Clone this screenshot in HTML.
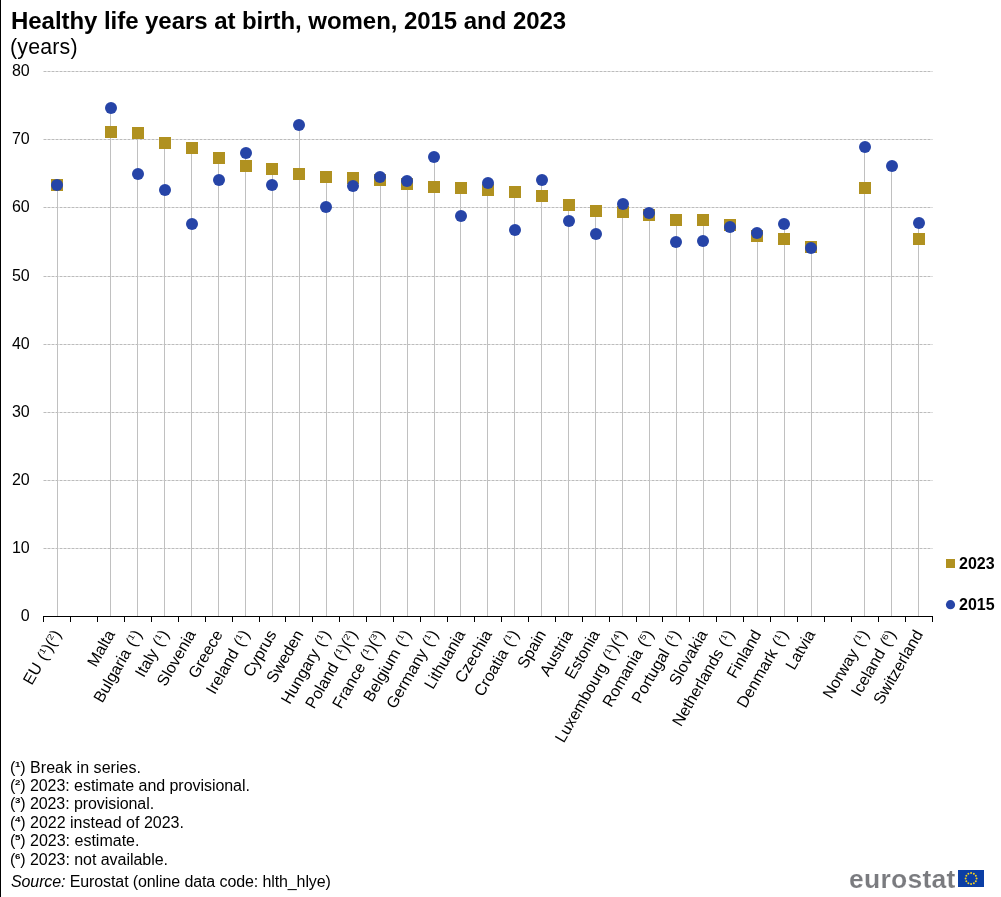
<!DOCTYPE html>
<html><head><meta charset="utf-8"><title>Healthy life years at birth, women, 2015 and 2023</title>
<style>
html,body{margin:0;padding:0;background:#fff;}
body{-webkit-font-smoothing:antialiased;width:1001px;height:897px;position:relative;overflow:hidden;font-family:"Liberation Sans",sans-serif;color:#000;}
.t{font-family:"Liberation Sans",sans-serif;fill:#000;}
#title,#sub,#foot,#src,#logo,svg{will-change:transform;}
.sp{display:inline-block;width:5.33px;text-align:center;font-size:7.8px;font-weight:bold;vertical-align:6px;line-height:0;}
#lb{position:absolute;left:0;top:0;width:1px;height:897px;background:#000;}
#title{position:absolute;left:10.6px;top:7px;font-size:24px;font-weight:bold;white-space:nowrap;line-height:28px;letter-spacing:-0.05px;}
#sub{position:absolute;left:10.3px;top:34.8px;letter-spacing:0.2px;font-size:21.33px;white-space:nowrap;line-height:24px;}
#foot{position:absolute;left:10px;top:759px;font-size:16px;line-height:18.38px;white-space:nowrap;}
#src{position:absolute;left:11px;top:873px;letter-spacing:-0.107px;font-size:16px;line-height:18.38px;white-space:nowrap;}
#logo{position:absolute;left:849.3px;top:863.5px;font-size:26.5px;font-weight:bold;color:#7a7b7f;line-height:30px;letter-spacing:0.25px;-webkit-text-stroke:0.15px #fff;}
</style></head><body>
<div id="lb"></div>
<svg width="1001" height="897" viewBox="0 0 1001 897" style="position:absolute;left:0;top:0">
<rect x="43" y="548" width="890" height="1" fill="#dedede" shape-rendering="crispEdges"/>
<line x1="44" x2="932" y1="548.5" y2="548.5" stroke="#bcbcbc" stroke-width="1" stroke-dasharray="2 2" shape-rendering="crispEdges"/>
<rect x="43" y="480" width="890" height="1" fill="#dedede" shape-rendering="crispEdges"/>
<line x1="44" x2="932" y1="480.5" y2="480.5" stroke="#bcbcbc" stroke-width="1" stroke-dasharray="2 2" shape-rendering="crispEdges"/>
<rect x="43" y="412" width="890" height="1" fill="#dedede" shape-rendering="crispEdges"/>
<line x1="44" x2="932" y1="412.5" y2="412.5" stroke="#bcbcbc" stroke-width="1" stroke-dasharray="2 2" shape-rendering="crispEdges"/>
<rect x="43" y="344" width="890" height="1" fill="#dedede" shape-rendering="crispEdges"/>
<line x1="44" x2="932" y1="344.5" y2="344.5" stroke="#bcbcbc" stroke-width="1" stroke-dasharray="2 2" shape-rendering="crispEdges"/>
<rect x="43" y="276" width="890" height="1" fill="#dedede" shape-rendering="crispEdges"/>
<line x1="44" x2="932" y1="276.5" y2="276.5" stroke="#bcbcbc" stroke-width="1" stroke-dasharray="2 2" shape-rendering="crispEdges"/>
<rect x="43" y="207" width="890" height="1" fill="#dedede" shape-rendering="crispEdges"/>
<line x1="44" x2="932" y1="207.5" y2="207.5" stroke="#bcbcbc" stroke-width="1" stroke-dasharray="2 2" shape-rendering="crispEdges"/>
<rect x="43" y="139" width="890" height="1" fill="#dedede" shape-rendering="crispEdges"/>
<line x1="44" x2="932" y1="139.5" y2="139.5" stroke="#bcbcbc" stroke-width="1" stroke-dasharray="2 2" shape-rendering="crispEdges"/>
<rect x="43" y="71" width="890" height="1" fill="#dedede" shape-rendering="crispEdges"/>
<line x1="44" x2="932" y1="71.5" y2="71.5" stroke="#bcbcbc" stroke-width="1" stroke-dasharray="2 2" shape-rendering="crispEdges"/>
<g shape-rendering="crispEdges">
<rect x="57" y="185" width="1" height="431" fill="#c0c0c0"/>
<rect x="110" y="108" width="1" height="508" fill="#c0c0c0"/>
<rect x="137" y="133" width="1" height="483" fill="#c0c0c0"/>
<rect x="164" y="143" width="1" height="473" fill="#c0c0c0"/>
<rect x="191" y="148" width="1" height="468" fill="#c0c0c0"/>
<rect x="218" y="158" width="1" height="458" fill="#c0c0c0"/>
<rect x="245" y="153" width="1" height="463" fill="#c0c0c0"/>
<rect x="272" y="169" width="1" height="447" fill="#c0c0c0"/>
<rect x="299" y="125" width="1" height="491" fill="#c0c0c0"/>
<rect x="326" y="177" width="1" height="439" fill="#c0c0c0"/>
<rect x="353" y="178" width="1" height="438" fill="#c0c0c0"/>
<rect x="380" y="177" width="1" height="439" fill="#c0c0c0"/>
<rect x="407" y="181" width="1" height="435" fill="#c0c0c0"/>
<rect x="434" y="157" width="1" height="459" fill="#c0c0c0"/>
<rect x="460" y="188" width="1" height="428" fill="#c0c0c0"/>
<rect x="487" y="183" width="1" height="433" fill="#c0c0c0"/>
<rect x="514" y="192" width="1" height="424" fill="#c0c0c0"/>
<rect x="541" y="180" width="1" height="436" fill="#c0c0c0"/>
<rect x="568" y="205" width="1" height="411" fill="#c0c0c0"/>
<rect x="595" y="211" width="1" height="405" fill="#c0c0c0"/>
<rect x="622" y="204" width="1" height="412" fill="#c0c0c0"/>
<rect x="649" y="213" width="1" height="403" fill="#c0c0c0"/>
<rect x="676" y="220" width="1" height="396" fill="#c0c0c0"/>
<rect x="703" y="220" width="1" height="396" fill="#c0c0c0"/>
<rect x="730" y="225" width="1" height="391" fill="#c0c0c0"/>
<rect x="757" y="233" width="1" height="383" fill="#c0c0c0"/>
<rect x="784" y="224" width="1" height="392" fill="#c0c0c0"/>
<rect x="811" y="247" width="1" height="369" fill="#c0c0c0"/>
<rect x="864" y="147" width="1" height="469" fill="#c0c0c0"/>
<rect x="891" y="166" width="1" height="450" fill="#c0c0c0"/>
<rect x="918" y="223" width="1" height="393" fill="#c0c0c0"/>
<rect x="43" y="616" width="890" height="1" fill="#000"/>
<rect x="43" y="616" width="1" height="6" fill="#000"/>
<rect x="70" y="616" width="1" height="6" fill="#000"/>
<rect x="97" y="616" width="1" height="6" fill="#000"/>
<rect x="124" y="616" width="1" height="6" fill="#000"/>
<rect x="151" y="616" width="1" height="6" fill="#000"/>
<rect x="178" y="616" width="1" height="6" fill="#000"/>
<rect x="205" y="616" width="1" height="6" fill="#000"/>
<rect x="232" y="616" width="1" height="6" fill="#000"/>
<rect x="259" y="616" width="1" height="6" fill="#000"/>
<rect x="285" y="616" width="1" height="6" fill="#000"/>
<rect x="312" y="616" width="1" height="6" fill="#000"/>
<rect x="339" y="616" width="1" height="6" fill="#000"/>
<rect x="366" y="616" width="1" height="6" fill="#000"/>
<rect x="393" y="616" width="1" height="6" fill="#000"/>
<rect x="420" y="616" width="1" height="6" fill="#000"/>
<rect x="447" y="616" width="1" height="6" fill="#000"/>
<rect x="474" y="616" width="1" height="6" fill="#000"/>
<rect x="501" y="616" width="1" height="6" fill="#000"/>
<rect x="528" y="616" width="1" height="6" fill="#000"/>
<rect x="555" y="616" width="1" height="6" fill="#000"/>
<rect x="582" y="616" width="1" height="6" fill="#000"/>
<rect x="609" y="616" width="1" height="6" fill="#000"/>
<rect x="636" y="616" width="1" height="6" fill="#000"/>
<rect x="662" y="616" width="1" height="6" fill="#000"/>
<rect x="689" y="616" width="1" height="6" fill="#000"/>
<rect x="716" y="616" width="1" height="6" fill="#000"/>
<rect x="743" y="616" width="1" height="6" fill="#000"/>
<rect x="770" y="616" width="1" height="6" fill="#000"/>
<rect x="797" y="616" width="1" height="6" fill="#000"/>
<rect x="824" y="616" width="1" height="6" fill="#000"/>
<rect x="851" y="616" width="1" height="6" fill="#000"/>
<rect x="878" y="616" width="1" height="6" fill="#000"/>
<rect x="905" y="616" width="1" height="6" fill="#000"/>
<rect x="932" y="616" width="1" height="6" fill="#000"/>
<rect x="51" y="179" width="12" height="12" fill="#B09120"/>
<rect x="105" y="126" width="12" height="12" fill="#B09120"/>
<rect x="132" y="127" width="12" height="12" fill="#B09120"/>
<rect x="159" y="137" width="12" height="12" fill="#B09120"/>
<rect x="186" y="142" width="12" height="12" fill="#B09120"/>
<rect x="213" y="152" width="12" height="12" fill="#B09120"/>
<rect x="240" y="160" width="12" height="12" fill="#B09120"/>
<rect x="266" y="163" width="12" height="12" fill="#B09120"/>
<rect x="293" y="168" width="12" height="12" fill="#B09120"/>
<rect x="320" y="171" width="12" height="12" fill="#B09120"/>
<rect x="347" y="172" width="12" height="12" fill="#B09120"/>
<rect x="374" y="174" width="12" height="12" fill="#B09120"/>
<rect x="401" y="178" width="12" height="12" fill="#B09120"/>
<rect x="428" y="181" width="12" height="12" fill="#B09120"/>
<rect x="455" y="182" width="12" height="12" fill="#B09120"/>
<rect x="482" y="184" width="12" height="12" fill="#B09120"/>
<rect x="509" y="186" width="12" height="12" fill="#B09120"/>
<rect x="536" y="190" width="12" height="12" fill="#B09120"/>
<rect x="563" y="199" width="12" height="12" fill="#B09120"/>
<rect x="590" y="205" width="12" height="12" fill="#B09120"/>
<rect x="617" y="206" width="12" height="12" fill="#B09120"/>
<rect x="643" y="209" width="12" height="12" fill="#B09120"/>
<rect x="670" y="214" width="12" height="12" fill="#B09120"/>
<rect x="697" y="214" width="12" height="12" fill="#B09120"/>
<rect x="724" y="219" width="12" height="12" fill="#B09120"/>
<rect x="751" y="230" width="12" height="12" fill="#B09120"/>
<rect x="778" y="233" width="12" height="12" fill="#B09120"/>
<rect x="805" y="241" width="12" height="12" fill="#B09120"/>
<rect x="859" y="182" width="12" height="12" fill="#B09120"/>
<rect x="913" y="233" width="12" height="12" fill="#B09120"/>
</g>
<circle cx="57" cy="185" r="6" fill="#2644A7"/>
<circle cx="111" cy="108" r="6" fill="#2644A7"/>
<circle cx="138" cy="174" r="6" fill="#2644A7"/>
<circle cx="165" cy="190" r="6" fill="#2644A7"/>
<circle cx="192" cy="224" r="6" fill="#2644A7"/>
<circle cx="219" cy="180" r="6" fill="#2644A7"/>
<circle cx="246" cy="153" r="6" fill="#2644A7"/>
<circle cx="272" cy="185" r="6" fill="#2644A7"/>
<circle cx="299" cy="125" r="6" fill="#2644A7"/>
<circle cx="326" cy="207" r="6" fill="#2644A7"/>
<circle cx="353" cy="186" r="6" fill="#2644A7"/>
<circle cx="380" cy="177" r="6" fill="#2644A7"/>
<circle cx="407" cy="181" r="6" fill="#2644A7"/>
<circle cx="434" cy="157" r="6" fill="#2644A7"/>
<circle cx="461" cy="216" r="6" fill="#2644A7"/>
<circle cx="488" cy="183" r="6" fill="#2644A7"/>
<circle cx="515" cy="230" r="6" fill="#2644A7"/>
<circle cx="542" cy="180" r="6" fill="#2644A7"/>
<circle cx="569" cy="221" r="6" fill="#2644A7"/>
<circle cx="596" cy="234" r="6" fill="#2644A7"/>
<circle cx="623" cy="204" r="6" fill="#2644A7"/>
<circle cx="649" cy="213" r="6" fill="#2644A7"/>
<circle cx="676" cy="242" r="6" fill="#2644A7"/>
<circle cx="703" cy="241" r="6" fill="#2644A7"/>
<circle cx="730" cy="227" r="6" fill="#2644A7"/>
<circle cx="757" cy="233" r="6" fill="#2644A7"/>
<circle cx="784" cy="224" r="6" fill="#2644A7"/>
<circle cx="811" cy="248" r="6" fill="#2644A7"/>
<circle cx="865" cy="147" r="6" fill="#2644A7"/>
<circle cx="892" cy="166" r="6" fill="#2644A7"/>
<circle cx="919" cy="223" r="6" fill="#2644A7"/>
<text x="29.7" y="621.10" font-size="16" text-anchor="end" class="t">0</text>
<text x="29.7" y="553.10" font-size="16" text-anchor="end" class="t">10</text>
<text x="29.7" y="485.10" font-size="16" text-anchor="end" class="t">20</text>
<text x="29.7" y="417.10" font-size="16" text-anchor="end" class="t">30</text>
<text x="29.7" y="349.10" font-size="16" text-anchor="end" class="t">40</text>
<text x="29.7" y="281.10" font-size="16" text-anchor="end" class="t">50</text>
<text x="29.7" y="212.10" font-size="16" text-anchor="end" class="t">60</text>
<text x="29.7" y="144.10" font-size="16" text-anchor="end" class="t">70</text>
<text x="29.7" y="76.10" font-size="16" text-anchor="end" class="t">80</text>
<g transform="translate(61.63,634.00) rotate(-60)"><text x="0.00" y="0" text-anchor="end" font-size="16" class="t">)</text><text transform="translate(-10.96,-5.4) scale(1,0.82)" font-size="10.24" class="t">2</text><text x="-10.66" y="0" text-anchor="end" font-size="16" class="t">(</text><text x="-15.99" y="0" text-anchor="end" font-size="16" class="t">)</text><text transform="translate(-26.94,-5.4) scale(1,0.82)" font-size="10.24" class="t">1</text><text x="-26.64" y="0" text-anchor="end" font-size="16" class="t">(</text><text x="-37.72" y="0" text-anchor="end" font-size="16" class="t">EU</text></g>
<g transform="translate(115.48,634.00) rotate(-60)"><text x="0.00" y="0" text-anchor="end" font-size="16" class="t">Malta</text></g>
<g transform="translate(142.41,634.00) rotate(-60)"><text x="0.00" y="0" text-anchor="end" font-size="16" class="t">)</text><text transform="translate(-10.96,-5.4) scale(1,0.82)" font-size="10.24" class="t">1</text><text x="-10.66" y="0" text-anchor="end" font-size="16" class="t">(</text><text x="-21.73" y="0" text-anchor="end" font-size="16" class="t">Bulgaria</text></g>
<g transform="translate(169.34,634.00) rotate(-60)"><text x="0.00" y="0" text-anchor="end" font-size="16" class="t">)</text><text transform="translate(-10.96,-5.4) scale(1,0.82)" font-size="10.24" class="t">1</text><text x="-10.66" y="0" text-anchor="end" font-size="16" class="t">(</text><text x="-21.73" y="0" text-anchor="end" font-size="16" class="t">Italy</text></g>
<g transform="translate(196.28,634.00) rotate(-60)"><text x="0.00" y="0" text-anchor="end" font-size="16" class="t">Slovenia</text></g>
<g transform="translate(223.20,634.00) rotate(-60)"><text x="0.00" y="0" text-anchor="end" font-size="16" class="t">Greece</text></g>
<g transform="translate(250.13,634.00) rotate(-60)"><text x="0.00" y="0" text-anchor="end" font-size="16" class="t">)</text><text transform="translate(-10.96,-5.4) scale(1,0.82)" font-size="10.24" class="t">1</text><text x="-10.66" y="0" text-anchor="end" font-size="16" class="t">(</text><text x="-21.73" y="0" text-anchor="end" font-size="16" class="t">Ireland</text></g>
<g transform="translate(277.07,634.00) rotate(-60)"><text x="0.00" y="0" text-anchor="end" font-size="16" class="t">Cyprus</text></g>
<g transform="translate(304.00,634.00) rotate(-60)"><text x="0.00" y="0" text-anchor="end" font-size="16" class="t">Sweden</text></g>
<g transform="translate(330.93,634.00) rotate(-60)"><text x="0.00" y="0" text-anchor="end" font-size="16" class="t">)</text><text transform="translate(-10.96,-5.4) scale(1,0.82)" font-size="10.24" class="t">1</text><text x="-10.66" y="0" text-anchor="end" font-size="16" class="t">(</text><text x="-21.73" y="0" text-anchor="end" font-size="16" class="t">Hungary</text></g>
<g transform="translate(357.86,634.00) rotate(-60)"><text x="0.00" y="0" text-anchor="end" font-size="16" class="t">)</text><text transform="translate(-10.96,-5.4) scale(1,0.82)" font-size="10.24" class="t">2</text><text x="-10.66" y="0" text-anchor="end" font-size="16" class="t">(</text><text x="-15.99" y="0" text-anchor="end" font-size="16" class="t">)</text><text transform="translate(-26.94,-5.4) scale(1,0.82)" font-size="10.24" class="t">1</text><text x="-26.64" y="0" text-anchor="end" font-size="16" class="t">(</text><text x="-37.72" y="0" text-anchor="end" font-size="16" class="t">Poland</text></g>
<g transform="translate(384.79,634.00) rotate(-60)"><text x="0.00" y="0" text-anchor="end" font-size="16" class="t">)</text><text transform="translate(-10.96,-5.4) scale(1,0.82)" font-size="10.24" class="t">3</text><text x="-10.66" y="0" text-anchor="end" font-size="16" class="t">(</text><text x="-15.99" y="0" text-anchor="end" font-size="16" class="t">)</text><text transform="translate(-26.94,-5.4) scale(1,0.82)" font-size="10.24" class="t">1</text><text x="-26.64" y="0" text-anchor="end" font-size="16" class="t">(</text><text x="-37.72" y="0" text-anchor="end" font-size="16" class="t">France</text></g>
<g transform="translate(411.72,634.00) rotate(-60)"><text x="0.00" y="0" text-anchor="end" font-size="16" class="t">)</text><text transform="translate(-10.96,-5.4) scale(1,0.82)" font-size="10.24" class="t">1</text><text x="-10.66" y="0" text-anchor="end" font-size="16" class="t">(</text><text x="-21.73" y="0" text-anchor="end" font-size="16" class="t">Belgium</text></g>
<g transform="translate(438.65,634.00) rotate(-60)"><text x="0.00" y="0" text-anchor="end" font-size="16" class="t">)</text><text transform="translate(-10.96,-5.4) scale(1,0.82)" font-size="10.24" class="t">1</text><text x="-10.66" y="0" text-anchor="end" font-size="16" class="t">(</text><text x="-21.73" y="0" text-anchor="end" font-size="16" class="t">Germany</text></g>
<g transform="translate(465.58,634.00) rotate(-60)"><text x="0.00" y="0" text-anchor="end" font-size="16" class="t">Lithuania</text></g>
<g transform="translate(492.50,634.00) rotate(-60)"><text x="0.00" y="0" text-anchor="end" font-size="16" class="t">Czechia</text></g>
<g transform="translate(519.44,634.00) rotate(-60)"><text x="0.00" y="0" text-anchor="end" font-size="16" class="t">)</text><text transform="translate(-10.96,-5.4) scale(1,0.82)" font-size="10.24" class="t">1</text><text x="-10.66" y="0" text-anchor="end" font-size="16" class="t">(</text><text x="-21.73" y="0" text-anchor="end" font-size="16" class="t">Croatia</text></g>
<g transform="translate(546.37,634.00) rotate(-60)"><text x="0.00" y="0" text-anchor="end" font-size="16" class="t">Spain</text></g>
<g transform="translate(573.29,634.00) rotate(-60)"><text x="0.00" y="0" text-anchor="end" font-size="16" class="t">Austria</text></g>
<g transform="translate(600.23,634.00) rotate(-60)"><text x="0.00" y="0" text-anchor="end" font-size="16" class="t">Estonia</text></g>
<g transform="translate(627.16,634.00) rotate(-60)"><text x="0.00" y="0" text-anchor="end" font-size="16" class="t">)</text><text transform="translate(-10.96,-5.4) scale(1,0.82)" font-size="10.24" class="t">4</text><text x="-10.66" y="0" text-anchor="end" font-size="16" class="t">(</text><text x="-15.99" y="0" text-anchor="end" font-size="16" class="t">)</text><text transform="translate(-26.94,-5.4) scale(1,0.82)" font-size="10.24" class="t">1</text><text x="-26.64" y="0" text-anchor="end" font-size="16" class="t">(</text><text x="-37.72" y="0" text-anchor="end" font-size="16" class="t">Luxembourg</text></g>
<g transform="translate(654.08,634.00) rotate(-60)"><text x="0.00" y="0" text-anchor="end" font-size="16" class="t">)</text><text transform="translate(-10.96,-5.4) scale(1,0.82)" font-size="10.24" class="t">5</text><text x="-10.66" y="0" text-anchor="end" font-size="16" class="t">(</text><text x="-21.73" y="0" text-anchor="end" font-size="16" class="t">Romania</text></g>
<g transform="translate(681.01,634.00) rotate(-60)"><text x="0.00" y="0" text-anchor="end" font-size="16" class="t">)</text><text transform="translate(-10.96,-5.4) scale(1,0.82)" font-size="10.24" class="t">1</text><text x="-10.66" y="0" text-anchor="end" font-size="16" class="t">(</text><text x="-21.73" y="0" text-anchor="end" font-size="16" class="t">Portugal</text></g>
<g transform="translate(707.95,634.00) rotate(-60)"><text x="0.00" y="0" text-anchor="end" font-size="16" class="t">Slovakia</text></g>
<g transform="translate(734.88,634.00) rotate(-60)"><text x="0.00" y="0" text-anchor="end" font-size="16" class="t">)</text><text transform="translate(-10.96,-5.4) scale(1,0.82)" font-size="10.24" class="t">1</text><text x="-10.66" y="0" text-anchor="end" font-size="16" class="t">(</text><text x="-21.73" y="0" text-anchor="end" font-size="16" class="t">Netherlands</text></g>
<g transform="translate(761.80,634.00) rotate(-60)"><text x="0.00" y="0" text-anchor="end" font-size="16" class="t">Finland</text></g>
<g transform="translate(788.74,634.00) rotate(-60)"><text x="0.00" y="0" text-anchor="end" font-size="16" class="t">)</text><text transform="translate(-10.96,-5.4) scale(1,0.82)" font-size="10.24" class="t">1</text><text x="-10.66" y="0" text-anchor="end" font-size="16" class="t">(</text><text x="-21.73" y="0" text-anchor="end" font-size="16" class="t">Denmark</text></g>
<g transform="translate(815.67,634.00) rotate(-60)"><text x="0.00" y="0" text-anchor="end" font-size="16" class="t">Latvia</text></g>
<g transform="translate(869.52,634.00) rotate(-60)"><text x="0.00" y="0" text-anchor="end" font-size="16" class="t">)</text><text transform="translate(-10.96,-5.4) scale(1,0.82)" font-size="10.24" class="t">1</text><text x="-10.66" y="0" text-anchor="end" font-size="16" class="t">(</text><text x="-21.73" y="0" text-anchor="end" font-size="16" class="t">Norway</text></g>
<g transform="translate(896.46,634.00) rotate(-60)"><text x="0.00" y="0" text-anchor="end" font-size="16" class="t">)</text><text transform="translate(-10.96,-5.4) scale(1,0.82)" font-size="10.24" class="t">6</text><text x="-10.66" y="0" text-anchor="end" font-size="16" class="t">(</text><text x="-21.73" y="0" text-anchor="end" font-size="16" class="t">Iceland</text></g>
<g transform="translate(923.39,634.00) rotate(-60)"><text x="0.00" y="0" text-anchor="end" font-size="16" class="t">Switzerland</text></g>
<rect x="946" y="559" width="9" height="9" fill="#B09120"/>
<circle cx="950.5" cy="604.7" r="4.6" fill="#2644A7"/>
<text x="959" y="569" font-size="16" font-weight="bold" class="t">2023</text>
<text x="959" y="609.5" font-size="16" font-weight="bold" class="t">2015</text>
<g transform="translate(10,772.6)"><text x="0" y="0" font-size="16" class="t">(</text><text transform="translate(5.03,-6.0) scale(1,0.82)" font-size="9.77" font-weight="bold" class="t">1</text><text x="10.26" y="0" font-size="16" letter-spacing="0.04" class="t">) Break in series.</text></g>
<g transform="translate(10,790.98)"><text x="0" y="0" font-size="16" class="t">(</text><text transform="translate(5.03,-6.0) scale(1,0.82)" font-size="9.77" font-weight="bold" class="t">2</text><text x="10.26" y="0" font-size="16" letter-spacing="-0.05" class="t">) 2023: estimate and provisional.</text></g>
<g transform="translate(10,809.36)"><text x="0" y="0" font-size="16" class="t">(</text><text transform="translate(5.03,-6.0) scale(1,0.82)" font-size="9.77" font-weight="bold" class="t">3</text><text x="10.26" y="0" font-size="16" letter-spacing="-0.07" class="t">) 2023: provisional.</text></g>
<g transform="translate(10,827.74)"><text x="0" y="0" font-size="16" class="t">(</text><text transform="translate(5.03,-6.0) scale(1,0.82)" font-size="9.77" font-weight="bold" class="t">4</text><text x="10.26" y="0" font-size="16" letter-spacing="0" class="t">) 2022 instead of 2023.</text></g>
<g transform="translate(10,846.12)"><text x="0" y="0" font-size="16" class="t">(</text><text transform="translate(5.03,-6.0) scale(1,0.82)" font-size="9.77" font-weight="bold" class="t">5</text><text x="10.26" y="0" font-size="16" letter-spacing="0" class="t">) 2023: estimate.</text></g>
<g transform="translate(10,864.5)"><text x="0" y="0" font-size="16" class="t">(</text><text transform="translate(5.03,-6.0) scale(1,0.82)" font-size="9.77" font-weight="bold" class="t">6</text><text x="10.26" y="0" font-size="16" letter-spacing="-0.04" class="t">) 2023: not available.</text></g>
</svg>
<div id="title">Healthy life years at birth, women, 2015 and 2023</div>
<div id="sub">(years)</div>
<div id="src"><i>Source:</i> Eurostat (online data code: hlth_hlye)</div>
<div id="logo">eurostat</div>
<svg id="flag" width="26.2" height="17" viewBox="0 0 26.2 17" style="position:absolute;left:958.1px;top:870.1px"><rect width="26.2" height="17" fill="#0b3ea5"/>
<circle cx="13.10" cy="3.00" r="0.95" fill="#f5d21f"/><circle cx="15.85" cy="3.74" r="0.95" fill="#f5d21f"/><circle cx="17.86" cy="5.75" r="0.95" fill="#f5d21f"/><circle cx="18.60" cy="8.50" r="0.95" fill="#f5d21f"/><circle cx="17.86" cy="11.25" r="0.95" fill="#f5d21f"/><circle cx="15.85" cy="13.26" r="0.95" fill="#f5d21f"/><circle cx="13.10" cy="14.00" r="0.95" fill="#f5d21f"/><circle cx="10.35" cy="13.26" r="0.95" fill="#f5d21f"/><circle cx="8.34" cy="11.25" r="0.95" fill="#f5d21f"/><circle cx="7.60" cy="8.50" r="0.95" fill="#f5d21f"/><circle cx="8.34" cy="5.75" r="0.95" fill="#f5d21f"/><circle cx="10.35" cy="3.74" r="0.95" fill="#f5d21f"/>
</svg>
</body></html>
